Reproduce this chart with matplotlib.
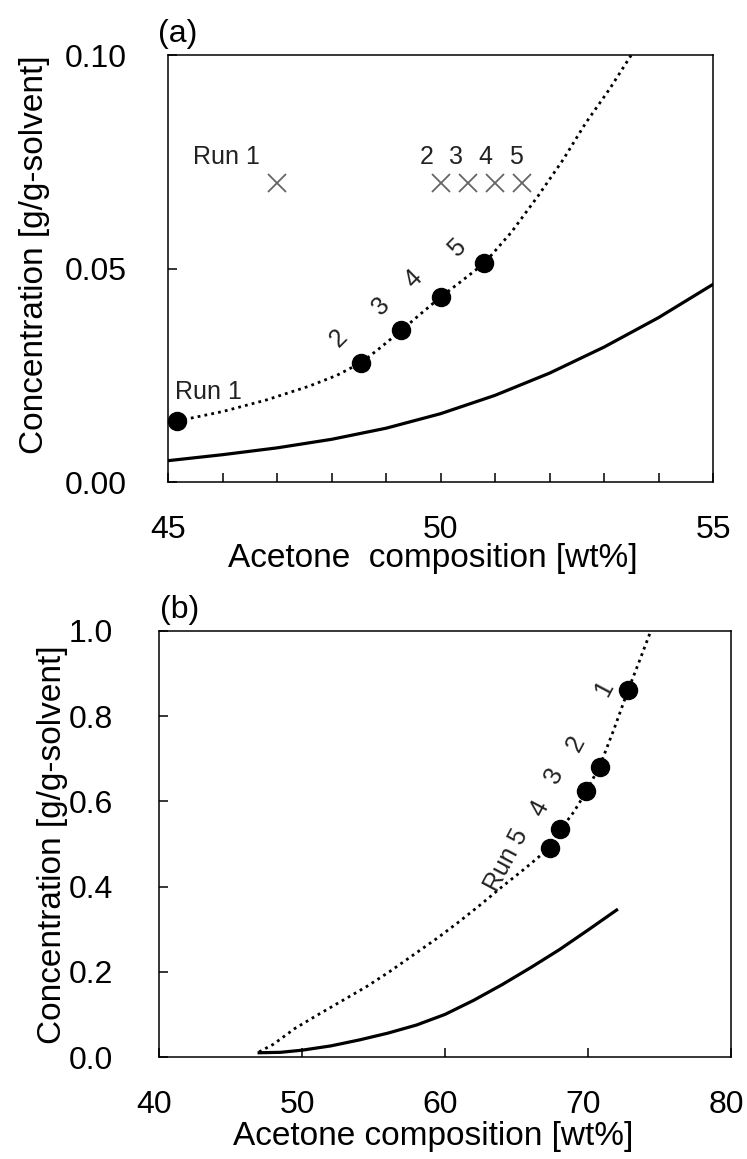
import matplotlib
matplotlib.use("Agg")
import matplotlib.pyplot as plt
from matplotlib.ticker import MultipleLocator, FormatStrFormatter
from matplotlib.transforms import ScaledTranslation

plt.rcParams['font.family'] = ['Liberation Sans', 'DejaVu Sans']

# ---- panel (a) data ----
a_sol_x = [45.0, 46.0, 47.0, 48.0, 49.0, 50.0, 51.0, 52.0, 53.0, 54.0, 55.0]
a_sol_y = [0.0050, 0.0064, 0.0080, 0.0100, 0.0126, 0.0160, 0.0203, 0.0255, 0.0316, 0.0385, 0.0463]
a_dot_x = [45.17, 46.0, 46.8, 47.6, 48.1, 48.55, 48.9, 49.27, 49.6, 50.0, 50.4, 50.8,
           51.3, 51.79, 52.25, 52.66, 53.1, 53.5]
a_dot_y = [0.0143, 0.0165, 0.0192, 0.0225, 0.0250, 0.0280, 0.0315, 0.0354, 0.0390, 0.0433, 0.0472, 0.0512,
           0.0585, 0.0670, 0.0755, 0.0840, 0.0920, 0.1000]
a_pt_x = [45.17, 48.55, 49.27, 50.0, 50.8]
a_pt_y = [0.0143, 0.0278, 0.0356, 0.0433, 0.0512]
a_pt_lab = ['Run 1', '2', '3', '4', '5']
a_pt_lab_x = [45.75, 48.13, 48.90, 49.51, 50.30]
a_pt_lab_y = [0.0211, 0.0337, 0.0411, 0.0476, 0.0548]
a_cr_x = [47.0, 50.0, 50.5, 51.0, 51.5]
a_cr_y = [0.070, 0.070, 0.070, 0.070, 0.070]
a_cr_lab = ['Run 1', '2', '3', '4', '5']
a_cr_lab_x = [46.08, 49.75, 50.28, 50.82, 51.39]
a_cr_lab_y = 0.0761

# ---- panel (b) data ----
b_sol_x = [47.0, 48.5, 50.0, 52.0, 54.0, 56.0, 58.0, 60.0, 62.0, 64.0, 66.0, 68.0, 70.0, 72.0]
b_sol_y = [0.010, 0.011, 0.016, 0.026, 0.040, 0.056, 0.075, 0.100, 0.133, 0.170, 0.210, 0.252, 0.298, 0.345]
b_dot_x = [47.0, 48.0, 49.5, 51.0, 52.8, 54.5, 56.15, 57.8, 59.5, 61.0, 62.5, 64.0, 65.5,
           66.5, 67.36, 68.06, 69.0, 69.86, 70.86, 71.8, 72.79, 73.6, 74.39]
b_dot_y = [0.012, 0.030, 0.067, 0.097, 0.132, 0.165, 0.201, 0.240, 0.280, 0.318, 0.358, 0.400, 0.440,
           0.468, 0.494, 0.533, 0.575, 0.622, 0.686, 0.768, 0.860, 0.930, 1.000]
b_pt_x = [72.79, 70.86, 69.86, 68.06, 67.36]
b_pt_y = [0.861, 0.681, 0.624, 0.536, 0.490]
b_pt_lab = ['1', '2', '3', '4', 'Run 5']
b_pt_lab_x = [71.13, 69.13, 67.63, 66.63, 64.3]
b_pt_lab_y = [0.865, 0.735, 0.661, 0.583, 0.462]

fig = plt.figure(figsize=(7.47, 11.59), dpi=100)
ax1 = fig.add_axes([0.2249, 0.5841, 0.7296, 0.3684])
ax2 = fig.add_axes([0.2129, 0.0880, 0.7657, 0.3676])

dots = (0, (1, 1.5))

# (a)
ax1.plot(a_sol_x, a_sol_y, color='black', lw=2.3)
ax1.plot(a_dot_x, a_dot_y, color='black', lw=2.0, linestyle=dots)
ax1.plot(a_pt_x, a_pt_y, 'o', color='black', ms=13, clip_on=False)
ax1.plot(a_cr_x, a_cr_y, 'x', color='#666666', ms=13, mew=1.3)
for t, x, y in zip(a_pt_lab, a_pt_lab_x, a_pt_lab_y):
    rot = 0 if t.startswith('Run') else 45
    ax1.text(x, y, t, fontsize=18, ha='center', va='center', rotation=rot, color='#222222')
for t, x in zip(a_cr_lab, a_cr_lab_x):
    ax1.text(x, a_cr_lab_y, t, fontsize=18, ha='center', va='center', color='#222222')
ax1.set_xlim(45, 55)
ax1.set_ylim(0, 0.10)
ax1.xaxis.set_major_locator(MultipleLocator(5))
ax1.xaxis.set_minor_locator(MultipleLocator(1))
ax1.yaxis.set_major_locator(MultipleLocator(0.05))
ax1.yaxis.set_major_formatter(FormatStrFormatter('%.2f'))
ax1.set_xlabel('Acetone  composition [wt%]', fontsize=24)
ax1.set_ylabel('Concentration [g/g-solvent]', fontsize=24)
ax1.xaxis.set_label_coords(0.486, -0.143)
ax1.yaxis.set_label_coords(-0.216, 0.532)
ax1.text(-0.0184, 1.05, '(a)', transform=ax1.transAxes, fontsize=23, ha='left', va='center')

# (b)
ax2.plot(b_sol_x, b_sol_y, color='black', lw=2.3)
ax2.plot(b_dot_x, b_dot_y, color='black', lw=2.0, linestyle=dots)
ax2.plot(b_pt_x, b_pt_y, 'o', color='black', ms=13)
for t, x, y in zip(b_pt_lab, b_pt_lab_x, b_pt_lab_y):
    ax2.text(x, y, t, fontsize=18, ha='center', va='center', rotation=62, color='#222222')
ax2.set_xlim(40, 80)
ax2.set_ylim(0, 1.0)
ax2.xaxis.set_major_locator(MultipleLocator(10))
ax2.yaxis.set_major_locator(MultipleLocator(0.2))
ax2.yaxis.set_major_formatter(FormatStrFormatter('%.1f'))
ax2.set_xlabel('Acetone composition [wt%]', fontsize=24)
ax2.set_ylabel('Concentration [g/g-solvent]', fontsize=24)
ax2.xaxis.set_label_coords(0.479, -0.150)
ax2.yaxis.set_label_coords(-0.160, 0.498)
ax2.text(0.0367, 1.05, '(b)', transform=ax2.transAxes, fontsize=23, ha='center', va='center')

for ax, xpad, ypad in [(ax1, 24, 30), (ax2, 24, 33)]:
    for s in ax.spines.values():
        s.set_linewidth(1.1)
    ax.tick_params(which='both', direction='in', top=False, right=False, width=1.1)
    ax.tick_params(which='major', length=6.5, labelsize=23)
    ax.tick_params(which='minor', length=6.5)
    ax.tick_params(axis='x', pad=xpad)
    ax.tick_params(axis='y', pad=ypad)

# reference has the lower x tick labels nudged slightly left
shift = ScaledTranslation(-0.05, 0, fig.dpi_scale_trans)
for lab in ax2.get_xticklabels():
    lab.set_transform(lab.get_transform() + shift)

fig.savefig('out.png', dpi=100)
